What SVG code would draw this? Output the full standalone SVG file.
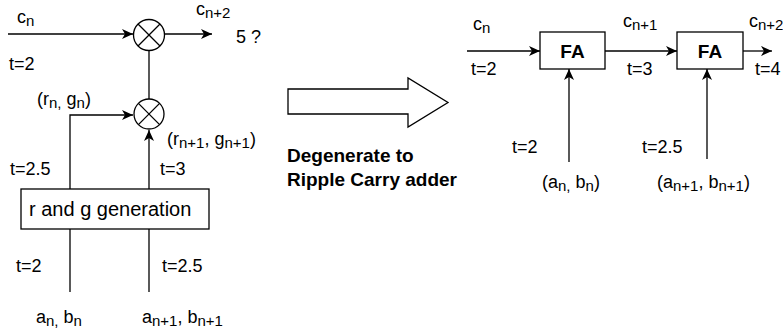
<svg xmlns="http://www.w3.org/2000/svg" width="783" height="330" viewBox="0 0 783 330">
<defs>
<style>
.ln{stroke:#000;stroke-width:1.3;fill:none}
.nd{stroke:#000;stroke-width:1.3;fill:#fff}
.t{font-family:"Liberation Sans",Arial,sans-serif;font-size:18px;fill:#000}
.b{font-family:"Liberation Sans",Arial,sans-serif;font-size:19px;font-weight:bold;fill:#000}
.s{font-size:15px}
</style>
<marker id="ah" markerUnits="userSpaceOnUse" markerWidth="12" markerHeight="10" refX="11" refY="5" orient="auto">
<path d="M0,0 L11,5 L0,10 L3,5 Z" fill="#000"/>
</marker>
</defs>
<rect width="783" height="330" fill="#fff"/>

<g id="connectors">
<line class="ln" x1="8" y1="34" x2="133" y2="34" marker-end="url(#ah)"/>
<line class="ln" x1="165" y1="34" x2="212" y2="34" marker-end="url(#ah)"/>
<line class="ln" x1="149" y1="50" x2="149" y2="99"/>
<polyline class="ln" points="70,189 70,115 133,115" marker-end="url(#ah)"/>
<line class="ln" x1="149" y1="189" x2="149" y2="130" marker-end="url(#ah)"/>
<line class="ln" x1="70" y1="229" x2="70" y2="292"/>
<line class="ln" x1="149" y1="229" x2="149" y2="292"/>
<line class="ln" x1="467" y1="51" x2="540" y2="51" marker-end="url(#ah)"/>
<line class="ln" x1="605" y1="51" x2="677" y2="51" marker-end="url(#ah)"/>
<line class="ln" x1="743" y1="51" x2="772" y2="51" marker-end="url(#ah)"/>
<line class="ln" x1="569" y1="162" x2="569" y2="69" marker-end="url(#ah)"/>
<line class="ln" x1="707" y1="159" x2="707" y2="69" marker-end="url(#ah)"/>
</g>

<g id="mul1">
<circle class="nd" cx="149" cy="35" r="15.5"/>
<line class="ln" x1="138" y1="24" x2="160" y2="46"/>
<line class="ln" x1="160" y1="24" x2="138" y2="46"/>
</g>
<g id="mul2">
<circle class="nd" cx="149" cy="114" r="15"/>
<line class="ln" x1="138.4" y1="103.4" x2="159.6" y2="124.6"/>
<line class="ln" x1="159.6" y1="103.4" x2="138.4" y2="124.6"/>
</g>
<g id="rg">
<rect class="nd" x="21" y="189" width="188" height="40"/>
<text class="t" x="29" y="216" style="font-size:20px">r and g generation</text>
</g>
<g id="bigarrow">
<polygon class="nd" points="288,89 408,89 408,78 448,102.5 408,127 408,114 288,114"/>
</g>
<g id="fa1">
<rect class="nd" x="540" y="32" width="65" height="37"/>
<text class="b" x="572.5" y="58" text-anchor="middle">FA</text>
</g>
<g id="fa2">
<rect class="nd" x="677" y="32" width="66" height="37"/>
<text class="b" x="710" y="58" text-anchor="middle">FA</text>
</g>

<g id="labels">
<text class="t" x="17" y="23">c<tspan class="s" dy="3">n</tspan></text>
<text class="t" x="196" y="15">c<tspan class="s" dy="3">n+2</tspan></text>
<text class="t" x="236" y="43">5 ?</text>
<text class="t" x="9" y="70">t=2</text>
<text class="t" x="37" y="105">(r<tspan class="s" dy="3">n,</tspan><tspan dy="-3"> g</tspan><tspan class="s" dy="3">n</tspan><tspan dy="-3">)</tspan></text>
<text class="t" x="167" y="145">(r<tspan class="s" dy="3">n+1</tspan><tspan dy="-3">, g</tspan><tspan class="s" dy="3">n+1</tspan><tspan dy="-3">)</tspan></text>
<text class="t" x="10" y="175">t=2.5</text>
<text class="t" x="160" y="175">t=3</text>
<text class="t" x="16" y="272">t=2</text>
<text class="t" x="162" y="272">t=2.5</text>
<text class="t" x="36" y="323">a<tspan class="s" dy="3">n,</tspan><tspan dy="-3"> b</tspan><tspan class="s" dy="3">n</tspan></text>
<text class="t" x="142" y="323">a<tspan class="s" dy="3">n+1</tspan><tspan dy="-3">, b</tspan><tspan class="s" dy="3">n+1</tspan></text>
<text class="b" x="287" y="162">Degenerate to</text>
<text class="b" x="287" y="186">Ripple Carry adder</text>
<text class="t" x="473" y="30">c<tspan class="s" dy="3">n</tspan></text>
<text class="t" x="471" y="75">t=2</text>
<text class="t" x="623" y="27">c<tspan class="s" dy="3">n+1</tspan></text>
<text class="t" x="627" y="75">t=3</text>
<text class="t" x="749" y="27">c<tspan class="s" dy="3">n+2</tspan></text>
<text class="t" x="755" y="75">t=4</text>
<text class="t" x="512" y="153">t=2</text>
<text class="t" x="642" y="153">t=2.5</text>
<text class="t" x="542" y="188">(a<tspan class="s" dy="3">n,</tspan><tspan dy="-3"> b</tspan><tspan class="s" dy="3">n</tspan><tspan dy="-3">)</tspan></text>
<text class="t" x="657" y="188">(a<tspan class="s" dy="3">n+1</tspan><tspan dy="-3">, b</tspan><tspan class="s" dy="3">n+1</tspan><tspan dy="-3">)</tspan></text>
</g>
</svg>
